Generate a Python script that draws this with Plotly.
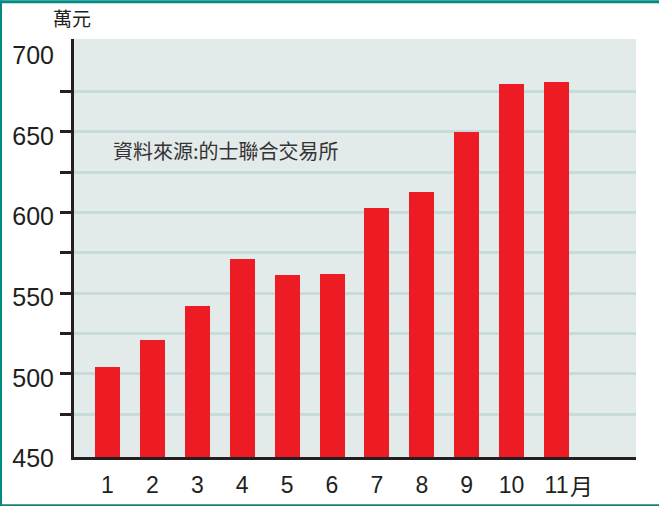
import plotly.graph_objects as go

months = [1, 2, 3, 4, 5, 6, 7, 8, 9, 10, 11]
month_labels = ["1", "2", "3", "4", "5", "6", "7", "8", "9", "10", "11"]
values = [504, 521, 542, 571, 561, 562, 603, 613, 650, 680, 681]
label_ticks = [450, 500, 550, 600, 650, 700]
grid_ticks = [475, 500, 525, 550, 575, 600, 625, 650, 675]
unit_text = "萬元"
source_text = "資料來源:的士聯合交易所"
month_suffix = "月"

W, H_target = 659, 506
H = 510  # slightly taller figure; the photographed page appears squeezed vertically
sy = H / H_target
L, R = 74, 23
T = round(39 * sy)
B = round(50 * sy)
pw, ph = W - L - R, H - T - B
yr = [448.4, 707.6]
xr = [0.254, 12.77]

def px_x(p):
    return (p - L) / pw

def px_y(p):
    return (H - B - p * sy) / ph

dark = "#231f20"
num_font = "Liberation Sans, Arial, sans-serif"
cjk_font = "Noto Sans CJK TC, Noto Sans CJK SC, sans-serif"

fig = go.Figure()
fig.add_trace(go.Bar(x=months, y=values, width=0.557, marker=dict(color="#ed1c24", line=dict(width=0)),
                     showlegend=False, hoverinfo="skip"))
fig.add_trace(go.Scatter(x=[None], y=[None], yaxis="y2", showlegend=False, hoverinfo="skip"))

fig.update_layout(
    width=W, height=H, autosize=False,
    margin=dict(l=L, r=R, t=T, b=B, pad=0),
    paper_bgcolor="white",
    plot_bgcolor="#e3eaea",
    bargap=0,
    xaxis=dict(range=xr, tickvals=months, ticktext=month_labels, showgrid=False, zeroline=False,
               showline=True, linewidth=3, linecolor=dark, ticks="outside", ticklen=5,
               tickcolor="rgba(0,0,0,0)",
               tickfont=dict(family=num_font, size=23, color=dark), fixedrange=True),
    yaxis=dict(range=yr, tickvals=grid_ticks, showticklabels=False, ticks="outside", ticklen=11,
               tickwidth=3, tickcolor=dark, showgrid=True, gridcolor="#c8dbdb", gridwidth=3,
               zeroline=False, showline=True, linewidth=3, linecolor=dark, fixedrange=True),
    yaxis2=dict(range=yr, overlaying="y", side="left", tickvals=label_ticks,
                ticktext=[str(v) for v in label_ticks], ticks="outside", ticklen=14,
                tickcolor="rgba(0,0,0,0)", showgrid=False, zeroline=False, showline=False,
                ticklabelshift=4,
                tickfont=dict(family=num_font, size=25, color=dark), fixedrange=True),
    shapes=[
        dict(type="rect", xref="paper", yref="paper", x0=px_x(0), x1=px_x(W), y0=px_y(3), y1=px_y(0),
             fillcolor="#008b80", line=dict(width=0), layer="above"),
        dict(type="rect", xref="paper", yref="paper", x0=px_x(0), x1=px_x(2), y0=px_y(H_target), y1=px_y(0),
             fillcolor="#008b80", line=dict(width=0), layer="above"),
        dict(type="rect", xref="paper", yref="paper", x0=px_x(0), x1=px_x(W), y0=px_y(H_target),
             y1=px_y(H_target - 2.5), fillcolor="#1a806e", line=dict(width=0), layer="above"),
    ],
    annotations=[
        dict(text=unit_text, xref="paper", yref="paper", x=px_x(72), y=px_y(17), xanchor="center",
             yanchor="middle", showarrow=False, font=dict(family=cjk_font, size=19, color=dark)),
        dict(text=source_text, xref="paper", yref="paper", x=px_x(111), y=px_y(150), xanchor="left",
             yanchor="middle", showarrow=False, font=dict(family=cjk_font, size=20, color="#333333")),
        dict(text=month_suffix, xref="x", yref="paper", x=months[-1] + 0.25, y=px_y(484), xanchor="left",
             yanchor="middle", showarrow=False, font=dict(family=cjk_font, size=23, color=dark)),
    ],
)

css_js = (
    "var s=document.createElement('style');"
    "s.textContent='html,body{margin:0;padding:0;overflow:hidden;}';"
    "document.head.appendChild(s);"
)

fig.write_html("out.html",
               config={"responsive": False, "displayModeBar": False, "staticPlot": True},
               post_script=css_js)
